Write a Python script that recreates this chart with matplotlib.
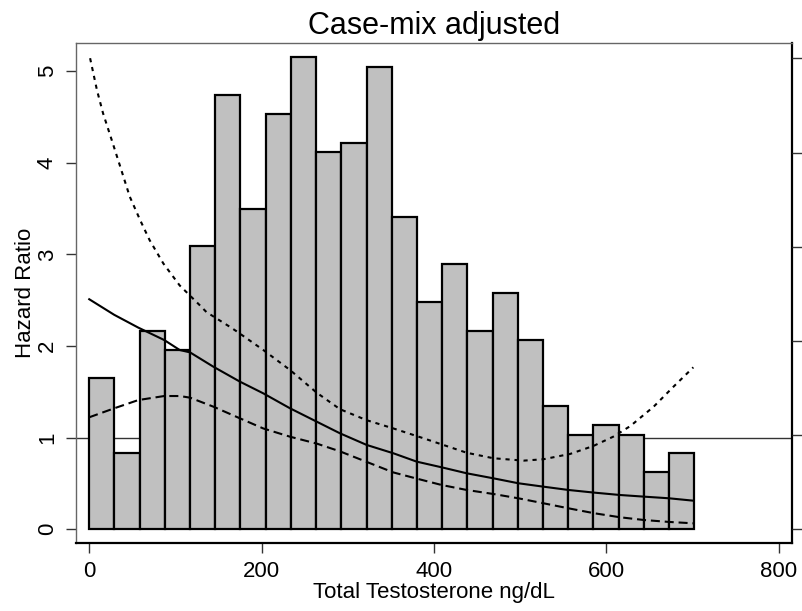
import numpy as np
import matplotlib
matplotlib.use('Agg')
from matplotlib import pyplot as plt

plt.rcParams['font.family'] = ['Liberation Sans', 'DejaVu Sans']
plt.rcParams['lines.scale_dashes'] = False

# histogram of total testosterone (bin width ~29.25 ng/dL, starting at 0)
bin_width = 29.25
bar_heights = [1.65, 0.83, 2.16, 1.96, 3.09, 4.74, 3.50, 4.53, 5.15, 4.12, 4.22, 5.04,
               3.41, 2.48, 2.89, 2.16, 2.58, 2.06, 1.34, 1.03, 1.14, 1.03, 0.63, 0.83]

# hazard ratio spline and confidence bounds
hr_x = [0, 29, 57, 87, 105, 117, 144, 175, 202, 233, 264, 291, 322, 353, 380,
        409, 438, 469, 498, 527, 556, 586, 616, 644, 673, 701]
hr = [2.51, 2.34, 2.20, 2.065, 1.956, 1.93, 1.774, 1.61, 1.483, 1.32, 1.174, 1.047,
      0.92, 0.829, 0.738, 0.676, 0.611, 0.556, 0.502, 0.465, 0.429, 0.40, 0.374,
      0.356, 0.338, 0.312]
lower = [1.222, 1.32, 1.41, 1.454, 1.454, 1.436, 1.338, 1.21, 1.10, 1.01, 0.935, 0.85,
         0.735, 0.62, 0.553, 0.483, 0.429, 0.385, 0.338, 0.284, 0.229, 0.175, 0.131,
         0.101, 0.08, 0.065]

upper_x = [1, 9, 16, 26, 36, 47, 59, 70, 86, 105, 128, 136, 163, 171, 202, 233, 264,
           291, 322, 353, 384, 411, 438, 469, 504, 527, 558, 585, 608, 628, 655, 678, 701]
upper = [5.14, 4.79, 4.54, 4.25, 3.956, 3.63, 3.375, 3.156, 2.90, 2.66, 2.447, 2.37,
         2.21, 2.16, 1.956, 1.738, 1.49, 1.31, 1.19, 1.10, 1.005, 0.92, 0.835, 0.775,
         0.749, 0.764, 0.822, 0.909, 1.01, 1.127, 1.338, 1.556, 1.767]

fig = plt.figure(figsize=(8.03, 6.11), dpi=100)
ax = fig.add_axes([0.0946, 0.1108, 0.8917, 0.8193])

edges = np.arange(len(bar_heights)) * bin_width
ax.axhline(1, color='#333333', lw=1.0, zorder=1)
ax.bar(edges, bar_heights, width=bin_width, align='edge', facecolor='#c0c0c0',
       edgecolor='black', lw=1.6, zorder=2)

ax.plot(hr_x, hr, color='black', lw=1.5, zorder=3)
ax.plot(hr_x, lower, color='black', lw=1.5, linestyle=(0, (6.5, 3.5)), zorder=3)
ax.plot(upper_x, upper, color='black', lw=1.5, linestyle=(0, (3, 3.5)), zorder=3)

ax.set_xlim(-15.4, 815.5)
ax.set_ylim(-0.153, 5.309)
ax.set_xticks([0, 200, 400, 600, 800])
ax.set_yticks([0, 1, 2, 3, 4, 5])
ax.tick_params(axis='both', direction='out', length=7, width=1, labelsize=16, color='#333333')
ax.tick_params(axis='x', pad=6)
ax.tick_params(axis='y', pad=6)
for lab in ax.get_yticklabels():
    lab.set_rotation(90)
    lab.set_va('center')

for side in ['left', 'top']:
    ax.spines[side].set_color('#666666')
    ax.spines[side].set_linewidth(1.0)
for side in ['bottom', 'right']:
    ax.spines[side].set_color('black')
    ax.spines[side].set_linewidth(1.6)

# unlabeled secondary scale on the right
ax2 = ax.twinx()
ax2.set_ylim(-0.1486, 5.166)
ax2.set_yticks([0, 1, 2, 3, 4, 5])
ax2.tick_params(axis='y', direction='out', length=7, width=1, labelright=False, color='#333333')
for side in ['left', 'top', 'bottom', 'right']:
    ax2.spines[side].set_visible(False)

ax.set_title('Case-mix adjusted', fontsize=22, pad=6)
ax.set_xlabel('Total Testosterone ng/dL', fontsize=16, labelpad=0)
ax.set_ylabel('Hazard Ratio', fontsize=16, labelpad=1)

fig.savefig('out.png', dpi=100)
